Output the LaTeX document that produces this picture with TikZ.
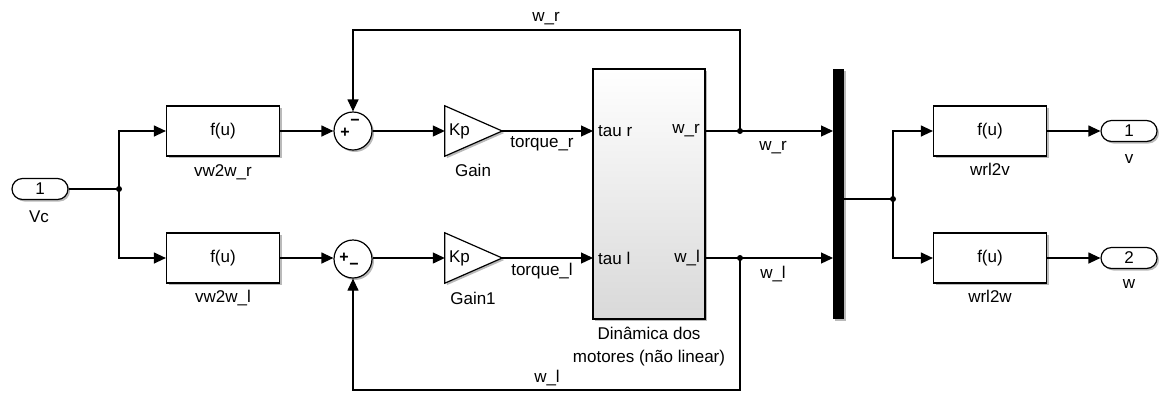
\documentclass[tikz,border=0pt]{standalone}
\usepackage{fontspec}
\setmainfont{Liberation Sans}
\usetikzlibrary{arrows.meta,shapes.misc,shadows}
\begin{document}
\begin{tikzpicture}[x=1pt,y=-1pt,
  every node/.style={font=\fontsize{17}{20}\selectfont},
  wire/.style={line width=1.2pt},
  sig/.style={wire,-{Triangle[length=12pt,width=11pt]}},
  shad/.style={drop shadow={shadow xshift=2pt,shadow yshift=-2pt,fill=black!45,opacity=0.6}},
  blk/.style={draw,line width=1.2pt,fill=white,minimum width=113pt,minimum height=50pt,inner sep=0pt,shad},
  port/.style={rounded rectangle,draw,line width=1.2pt,fill=white,minimum width=56pt,minimum height=21pt,inner sep=0pt,shad},
  sumb/.style={circle,draw,line width=1.2pt,fill=white,minimum size=38pt,inner sep=0pt,shad},
  sgn/.style={font=\fontsize{16}{16}\selectfont\bfseries,inner sep=0pt},
  lbl/.style={anchor=base,inner sep=0pt},
  dot/.style={circle,fill=black,inner sep=0pt,minimum size=6pt}
]
\useasboundingbox (0,0) rectangle (1166,392);

% blocks
\node[port] (in1) at (40,189) {1};
\node[blk] (vwr) at (223,131) {f(u)};
\node[blk] (vwl) at (223,258) {f(u)};
\node[sumb] (sum1) at (353,131) {};
\node[sumb] (sum2) at (353,259) {};
\node[sgn] at (345,133) {+};
\node[sgn] at (355,122) {−};
\node[sgn] at (344,258) {+};
\node[sgn] at (354,266) {−};

\node[minimum width=57pt,minimum height=50pt,inner sep=0pt] (g1) at (473.5,131) {};
\node[minimum width=57pt,minimum height=50pt,inner sep=0pt] (g2) at (473.5,258) {};
\draw[wire,fill=white,shad] (g1.north west) -- (g1.east) -- (g1.south west) -- cycle;
\draw[wire,fill=white,shad] (g2.north west) -- (g2.east) -- (g2.south west) -- cycle;
\node[anchor=west,inner sep=0pt] (kp1) at ([xshift=4pt]g1.west) {Kp};
\node[anchor=west,inner sep=0pt] (kp2) at ([xshift=4pt]g2.west) {Kp};

\node[draw,line width=1.2pt,minimum width=112pt,minimum height=250pt,inner sep=0pt,
      top color=white,bottom color=black!15,shad] (dyn) at (649,194) {};
\node[anchor=west,inner sep=0pt] (ptr) at (598,131) {tau r};
\node[anchor=west,inner sep=0pt] (ptl) at (598,258) {tau l};
\node[anchor=east,inner sep=0pt] (pwr) at (700,131) {w\_r};
\node[anchor=east,inner sep=0pt] (pwl) at (700,258) {w\_l};

\node[fill=black,minimum width=11pt,minimum height=250pt,inner sep=0pt,shad] (bus) at (838.5,194) {};

\node[blk] (w2v) at (990,131) {f(u)};
\node[blk] (w2w) at (990,258) {f(u)};
\node[port] (out1) at (1129,131) {1};
\node[port] (out2) at (1129,258) {2};

% block labels
\node[lbl] at (39,222) {Vc};
\node[lbl] at (223,176) {vw2w\_r};
\node[lbl] at (223,302) {vw2w\_l};
\node[lbl] at (473,176) {Gain};
\node[lbl] at (473,304) {Gain1};
\node[lbl] at (649,339) {Dinâmica dos};
\node[lbl] at (649,362) {motores (não linear)};
\node[lbl] at (990,175) {wrl2v};
\node[lbl] at (990,302) {wrl2w};
\node[lbl] at (1129,163) {v};
\node[lbl] at (1129,288) {w};

% signal labels
\node[lbl] at (542,147) {torque\_r};
\node[lbl] at (542,275) {torque\_l};
\node[lbl] at (773,150) {w\_r};
\node[lbl] at (773,278) {w\_l};
\node[lbl] at (546,21) {w\_r};
\node[lbl] at (547,382) {w\_l};

% coordinates
\coordinate (j1) at (119,189);
\coordinate (dtr) at (593,131);
\coordinate (dtl) at (593,258);
\coordinate (dwr) at (705,131);
\coordinate (dwl) at (705,258);
\coordinate (j2) at (740,131);
\coordinate (j3) at (740,258);
\coordinate (bir) at (833,131);
\coordinate (bil) at (833,258);
\coordinate (fbr) at (740,30);
\coordinate (fbl) at (740,390);
\coordinate (bo) at (844,199);
\coordinate (j4) at (893,199);

% wires
\draw[wire] (in1.east) -- (j1);
\draw[sig] (j1) |- (vwr.west);
\draw[sig] (j1) |- (vwl.west);
\draw[sig] (vwr.east) -- (sum1.west);
\draw[sig] (vwl.east) -- (sum2.west |- vwl.east);
\draw[sig] (sum1.east) -- (g1.west);
\draw[sig] (sum2.east |- g2.west) -- (g2.west);
\draw[sig] (g1.east) -- (dtr);
\draw[sig] (g2.east) -- (dtl);
\draw[sig] (dwr) -- (bir);
\draw[sig] (dwl) -- (bil);
\draw[sig] (j2) -- (fbr) -| (sum1.north);
\draw[sig] (j3) -- (fbl) -| (sum2.south);
\draw[wire] (bo) -- (j4);
\draw[sig] (j4) |- (w2v.west);
\draw[sig] (j4) |- (w2w.west);
\draw[sig] (w2v.east) -- (out1.west);
\draw[sig] (w2w.east) -- (out2.west);

\node[dot] at (j1) {};
\node[dot] at (j2) {};
\node[dot] at (j3) {};
\node[dot] at (j4) {};
\end{tikzpicture}
\end{document}
